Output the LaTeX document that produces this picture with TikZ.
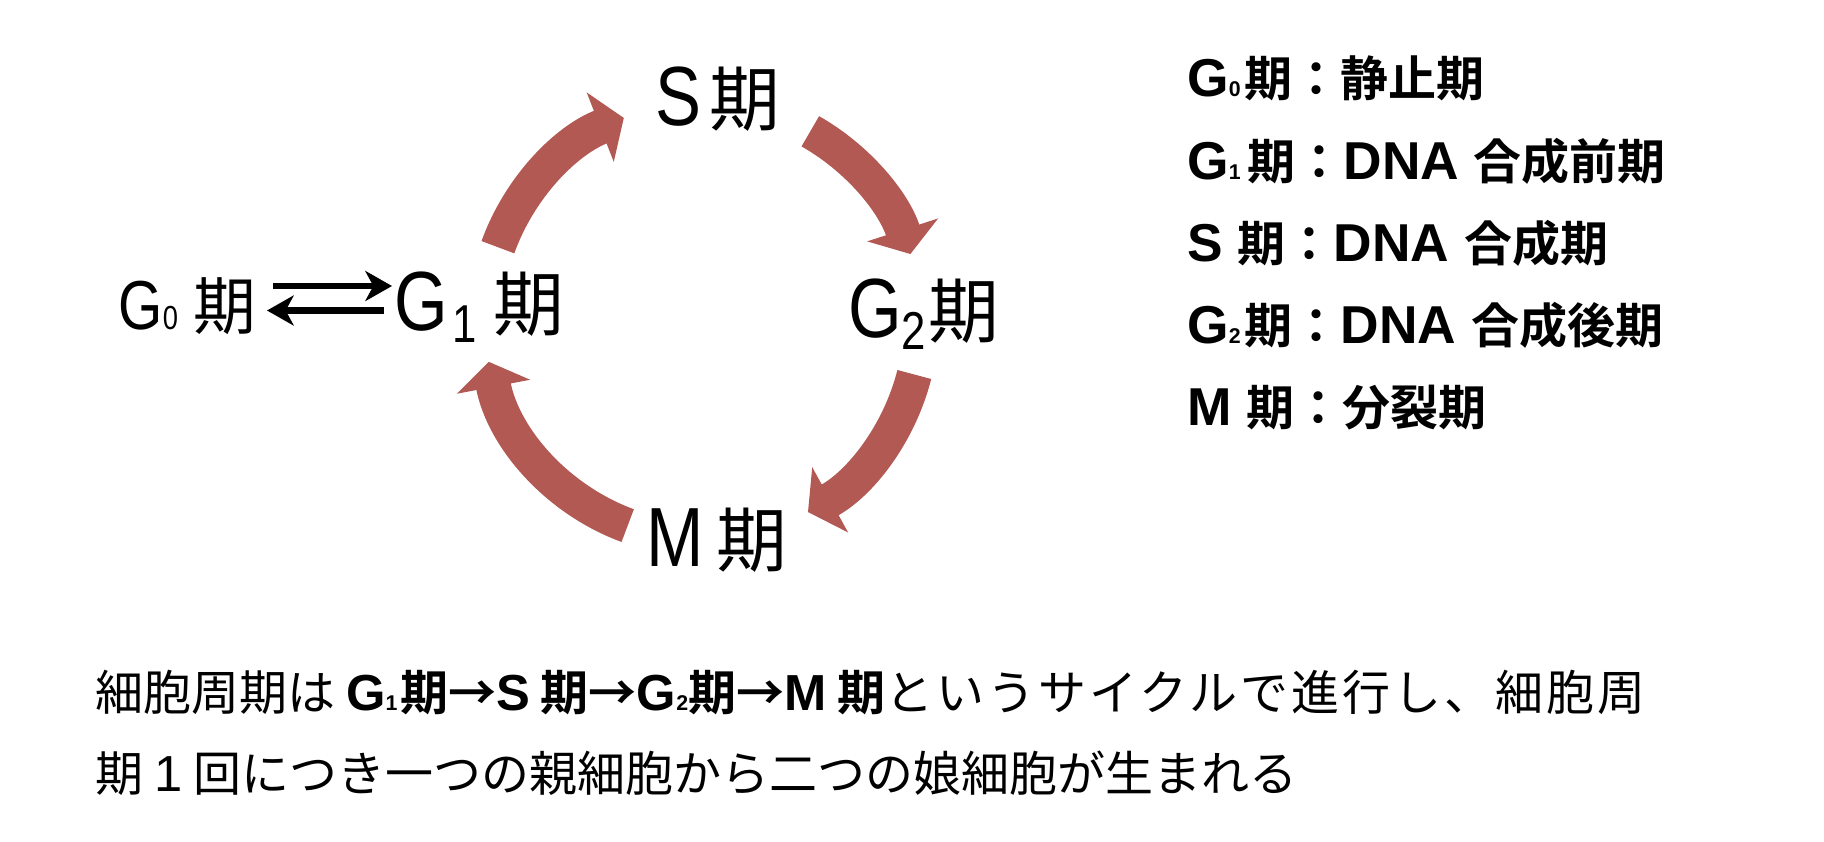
\documentclass[tikz,border=0pt]{standalone}
\usepackage{fontspec}
\setmainfont{Liberation Sans}
\newfontfamily\cond{Liberation Sans}[FakeStretch=0.82]
\newfontfamily\jp{Noto Sans CJK JP}[BoldFont={Noto Sans CJK JP Bold}]
\usetikzlibrary{arrows.meta}

\definecolor{cycred}{RGB}{178,89,84}

\newcommand\bigjp{\jp\fontsize{53}{53}\selectfont}
\newcommand\lowsub[1]{\raisebox{-9pt}{\fontsize{40}{40}\selectfont #1}}
\newcommand\legjp{\jp\bfseries\fontsize{36}{36}\selectfont}
\newcommand\smsub[1]{{\fontsize{16}{16}\selectfont #1}}
\newcommand\notela{\rmfamily\fontsize{38}{38}\selectfont}

\tikzset{every picture/.style={line width=0.75pt}}
\tikzset{
  phaselbl/.style={anchor=base, inner sep=0pt, font=\cond\fontsize{63}{63}\selectfont},
  legline/.style={anchor=base west, inner sep=0pt, font=\bfseries\fontsize{40}{40}\selectfont},
  noteline/.style={anchor=base west, inner sep=0pt, font=\jp\fontsize{36}{36}\selectfont},
  cyc/.style={draw=cycred, line width=26.25pt, -{Triangle[length=19pt,width=55pt]}},
  gzarr/.style={line width=4.9pt, -{Stealth[length=20pt,width=22.5pt,inset=6pt]}},
}

\begin{document}
\begin{tikzpicture}[x=0.75pt,y=0.75pt,yscale=-1,xscale=1]
\useasboundingbox (0,0) rectangle (1824,842);

% Text Node
\draw (718,125) node [phaselbl] (s) {S\kern6pt{\bigjp 期}};
% Text Node
\draw (394,330) node [phaselbl, anchor=base west] (gone) {G\kern3pt\lowsub{1}\kern13pt{\bigjp 期}};
% Text Node
\draw (924,337) node [phaselbl] (gtwo) {G\lowsub{2}\kern2pt{\bigjp 期}};
% Text Node
\draw (717,566) node [phaselbl] (m) {M\kern9pt{\bigjp 期}};
% Text Node
\draw (257,329) node [phaselbl, anchor=base east, font=\cond\fontsize{52}{52}\selectfont] (gzero) {G{\fontsize{25}{25}\selectfont 0} {\jp\fontsize{47}{47}\selectfont 期}};

%Curve Lines
\coordinate (c) at (703,321);
\coordinate (t1) at (497.9,247.2);
\coordinate (t2) at (810.3,131.3);
\coordinate (t3) at (914.3,374.5);
\coordinate (t4) at (627.7,525.6);
\draw [cyc] (t1) arc [start angle=-160.2, end angle=-111.3, radius=218];
\draw [cyc] (t2) arc [start angle=-60.5, end angle=-17.9, radius=218];
\draw [cyc] (t3) arc [start angle=14.2, end angle=61.2, radius=218];
\draw [cyc] (t4) arc [start angle=110.2, end angle=169.2, radius=218];

%Straight Lines
\coordinate (hi) at (0,286);
\coordinate (lo) at (0,310.5);
\draw [gzarr, shorten <=12pt, shorten >=1.5pt] (gzero.east |- hi) -- (gone.west |- hi);
\draw [gzarr, shorten <=7.5pt, shorten >=7.5pt] (gone.west |- lo) -- (gzero.east |- lo);

% Text Node
\draw (1187,97) node [legline] (lg0) {G\smsub{0}\kern3pt{\legjp 期：静止期}};
% Text Node
\draw (1187,179) node [legline] (lg1) {G\smsub{1}\kern5pt{\legjp 期：}DNA {\legjp 合成前期}};
% Text Node
\draw (1187,261) node [legline] (ls) {S {\legjp 期：}DNA {\legjp 合成期}};
% Text Node
\draw (1187,343) node [legline] (lg2) {G\smsub{2}\kern3pt{\legjp 期：}DNA {\legjp 合成後期}};
% Text Node
\draw (1187,425) node [legline] (lm) {M {\legjp 期：分裂期}};

% Text Node
\draw (95,710) node [noteline] (note1) {細胞周期は {\bfseries{\notela G\smsub{1}}\kern2pt 期→{\notela S} 期→{\notela G\smsub{2}}期→{\notela M} 期}{\addfontfeature{LetterSpace=6.4}というサイクルで進行し、細胞周}};
% Text Node
\draw (95,791) node [noteline] (note2) {期 {\notela 1} 回につき一つの親細胞から二つの娘細胞が生まれる};

\end{tikzpicture}
\end{document}
